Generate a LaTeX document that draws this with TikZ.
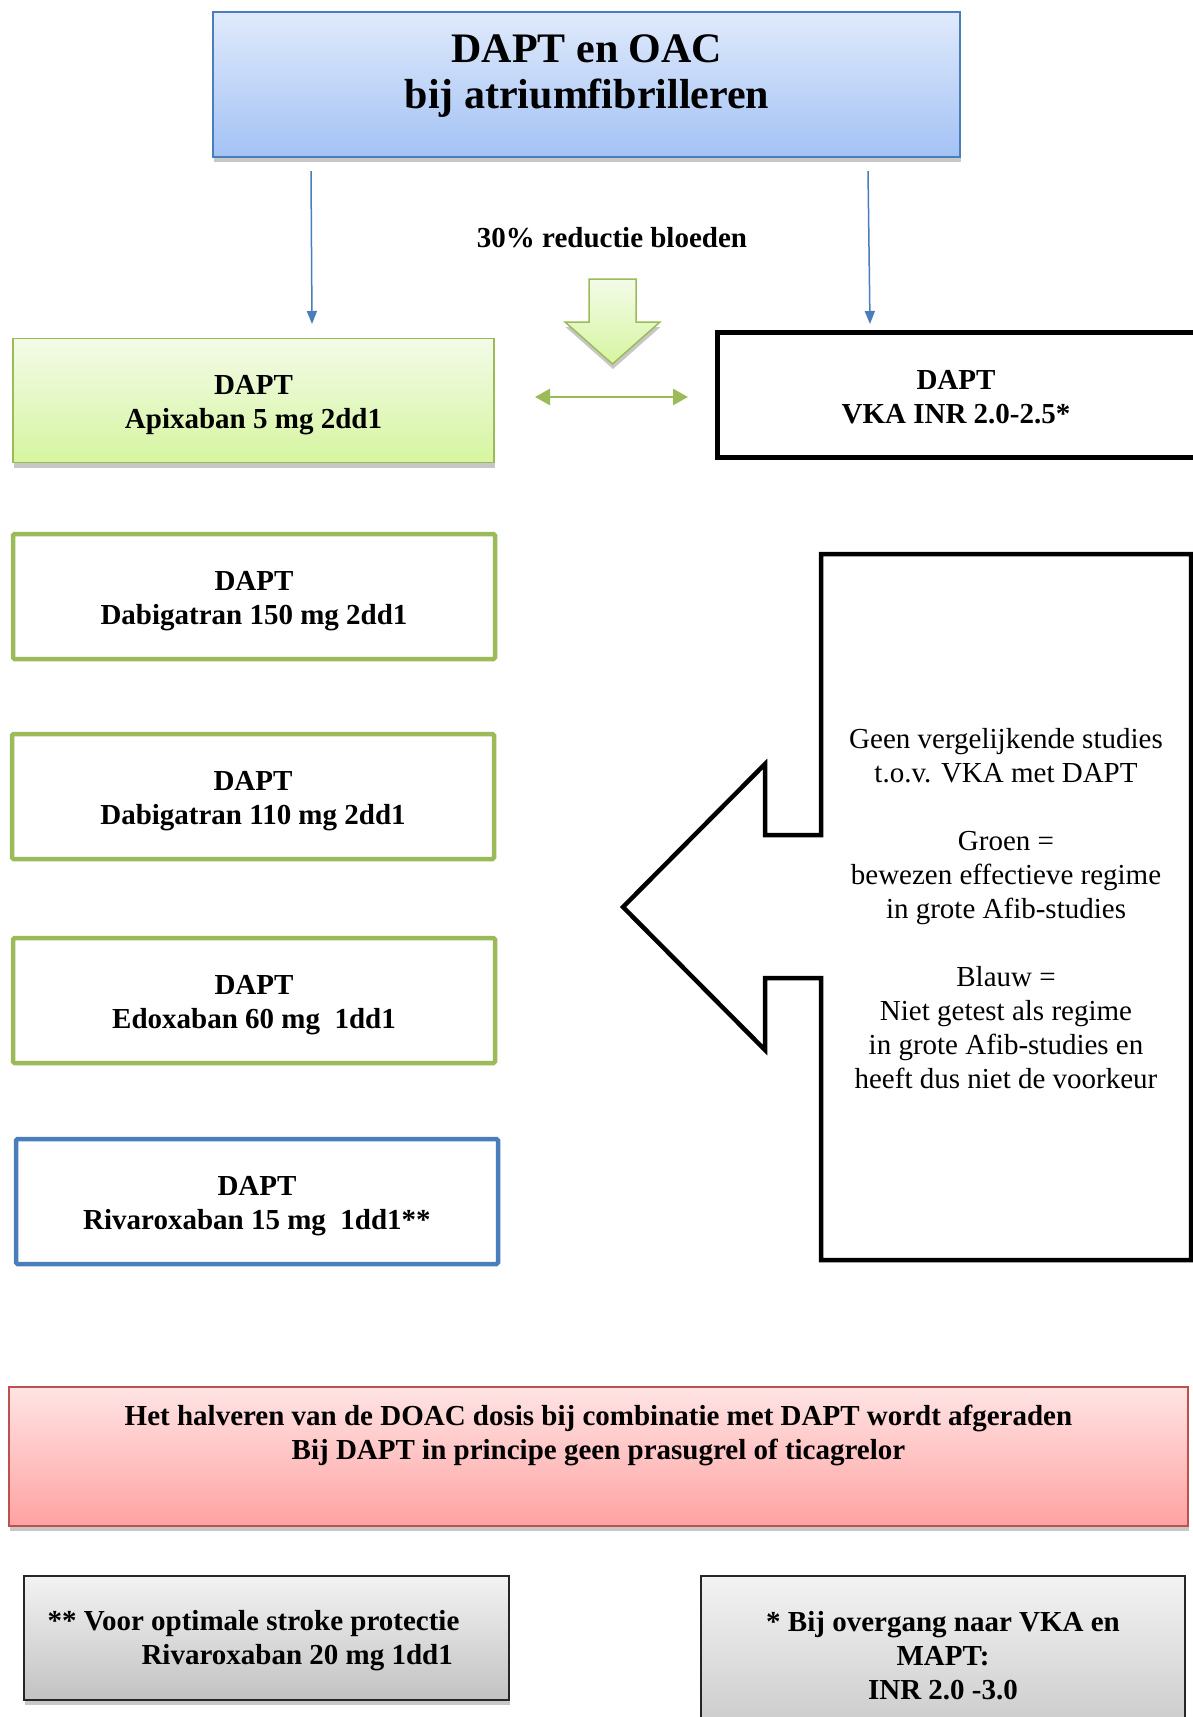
\documentclass[tikz,border=0pt]{standalone}
\usepackage{fontspec}
\setmainfont{Liberation Serif}
\usetikzlibrary{arrows.meta,shadows}
\definecolor{blueln}{HTML}{4A7EBB}
\definecolor{greenln}{HTML}{9BBB59}
\definecolor{redln}{HTML}{C0504D}
\definecolor{titletop}{HTML}{E0EAFB}
\definecolor{titlebot}{HTML}{A3C2F5}
\definecolor{greentop}{HTML}{F3FBE8}
\definecolor{greenbot}{HTML}{D6F5A0}
\definecolor{redtop}{HTML}{FFE4E4}
\definecolor{redbot}{HTML}{FFA2A2}
\definecolor{graytop}{HTML}{F3F3F3}
\definecolor{graybot}{HTML}{C2C2C2}
\begin{document}
\begin{tikzpicture}[x=1pt,y=-1pt,
  boxtext/.style={align=center,font=\bfseries\fontsize{29}{34}\selectfont},
  plaintext/.style={align=center,font=\fontsize{29}{34}\selectfont},
  rbox/.style={rectangle,inner sep=0pt},
  softshadow/.style={drop shadow={shadow xshift=0.5pt,shadow yshift=-5pt,opacity=0.22,fill=black}},
  greenbox/.style={rbox,draw=greenln,line width=4.5pt,fill=white,rounded corners=1.5pt},
  bluebox/.style={rbox,draw=blueln,line width=4.5pt,fill=white,rounded corners=1.5pt},
  bluearrow/.style={draw=blueln,line width=1.5pt,-{Triangle[length=13pt,width=10pt]}},
  greenarrow/.style={draw=greenln,line width=2.5pt,{Triangle[length=15pt,width=16pt]}-{Triangle[length=15pt,width=16pt]}}
]
\useasboundingbox (0,0) rectangle (1193,1717);
\fill[white] (0,0) rectangle (1193,1717);

% title
\node[rbox,minimum width=747pt,minimum height=145pt,draw=blueln,line width=1.5pt,
      top color=titletop,bottom color=titlebot,softshadow] (title) at (586.5,84.5) {};
\node[align=center,font=\bfseries\fontsize{42}{46}\selectfont] (titletext) at (587,76)
  {DAPT en OAC\\bij atriumfibrilleren};

% blue arrows
\coordinate (la1) at (311,171);
\coordinate (la2) at (312,324);
\coordinate (ra1) at (868,171);
\coordinate (ra2) at (870,324);
\draw[bluearrow] (la1) -- (la2);
\draw[bluearrow] (ra1) -- (ra2);

% reduction label and block arrow
\node[boxtext] (red30) at (612,238) {30\% reductie bloeden};
\draw[draw=greenln,line width=1.5pt,top color=greentop,bottom color=greenbot,softshadow,line join=miter]
  (589,279) -- (636,279) -- (636,322) -- (660,322) -- (612.5,364) -- (565,322) -- (589,322) -- cycle;

% left column
\node[rbox,minimum width=481pt,minimum height=124pt,draw=greenln,line width=1.5pt,
      top color=greentop,bottom color=greenbot,softshadow] (apix) at (253.5,400.5) {};
\node[boxtext] (apixt) at (253.5,405.5) {DAPT\\Apixaban 5 mg 2dd1};

\node[greenbox,minimum width=482pt,minimum height=125pt] (dab150) at (254,596.5) {};
\node[boxtext] (dab150t) at (254,601.5) {DAPT\\Dabigatran 150 mg 2dd1};

\node[greenbox,minimum width=482pt,minimum height=125pt] (dab110) at (253,796.5) {};
\node[boxtext] (dab110t) at (253,801.5) {DAPT\\Dabigatran 110 mg 2dd1};

\node[greenbox,minimum width=482pt,minimum height=125pt] (edox) at (254,1000.5) {};
\node[boxtext] (edoxt) at (254,1005.5) {DAPT\\Edoxaban 60 mg\ \ 1dd1};

\node[bluebox,minimum width=482pt,minimum height=125pt] (riva) at (257,1201.5) {};
\node[boxtext] (rivat) at (257,1206.5) {DAPT\\Rivaroxaban 15 mg\ \ 1dd1**};

% VKA box
\node[rbox,minimum width=480pt,minimum height=125pt,draw=black,line width=5pt,fill=white] (vka) at (957,394.5) {};
\node[boxtext] (vkat) at (956,397) {DAPT\\VKA INR 2.0-2.5*};

% green double arrow
\coordinate (ga1) at (535,397);
\coordinate (ga2) at (688,397);
\draw[greenarrow] (ga1) -- (ga2);

% callout
\draw[line width=4.5pt,line join=miter,fill=white] (821,554) -- (1191,554) -- (1191,1260) -- (821,1260)
  -- (821,978) -- (765,978) -- (765,1050) -- (623,907) -- (765,764) -- (765,835) -- (821,835) -- cycle;
\node[plaintext] (callouttext) at (1006,909)
  {Geen vergelijkende studies\\t.o.v. VKA met DAPT\\[34pt]Groen =\\bewezen effectieve regime\\in grote Afib-studies\\[34pt]Blauw =\\Niet getest als regime\\in grote Afib-studies en\\heeft dus niet de voorkeur};

% red box
\node[rbox,minimum width=1179pt,minimum height=139pt,draw=redln,line width=1.5pt,
      top color=redtop,bottom color=redbot,softshadow] (warn) at (598.5,1456.5) {};
\node[boxtext] (warntext) at (598.5,1435)
  {Het halveren van de DOAC dosis bij combinatie met DAPT wordt afgeraden\\Bij DAPT in principe geen prasugrel of ticagrelor};

% gray boxes
\node[rbox,minimum width=485pt,minimum height=124pt,draw=black!85,line width=2pt,
      top color=graytop,bottom color=graybot,softshadow] (note1) at (266.5,1638) {};
\node[boxtext,align=left,anchor=west] (note1text) at (44,1641)
  {** Voor optimale stroke protectie\\\hspace*{94pt}Rivaroxaban 20 mg 1dd1};
\node[rbox,minimum width=484pt,minimum height=190pt,draw=black!85,line width=2pt,
      top color=graytop,bottom color=graybot,softshadow] (note2) at (943,1671) {};
\node[boxtext] (note2text) at (943,1656)
  {* Bij overgang naar VKA en\\MAPT:\\INR 2.0 -3.0};
\end{tikzpicture}
\end{document}
